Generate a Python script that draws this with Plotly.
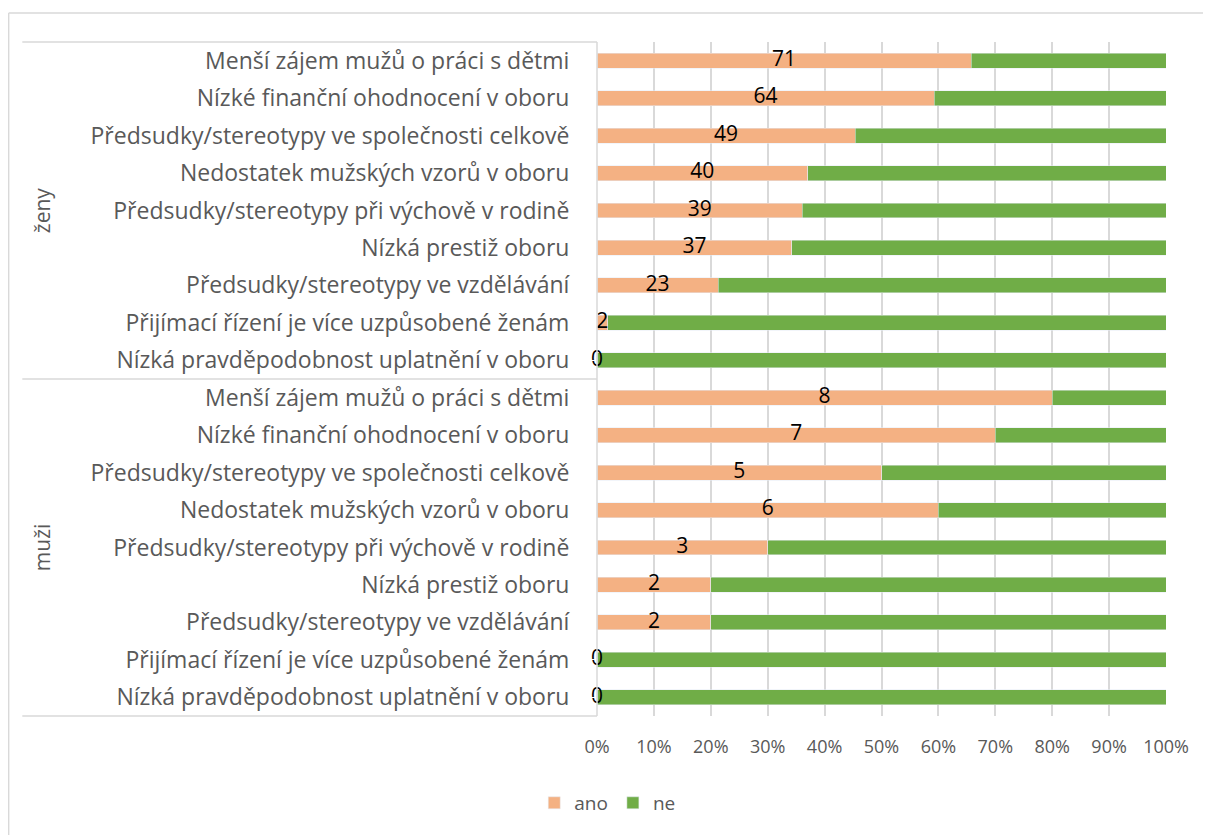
import plotly.graph_objects as go

categories = [
    "Menší zájem mužů o práci s dětmi",
    "Nízké finanční ohodnocení v oboru",
    "Předsudky/stereotypy ve společnosti celkově",
    "Nedostatek mužských vzorů v oboru",
    "Předsudky/stereotypy při výchově v rodině",
    "Nízká prestiž oboru",
    "Předsudky/stereotypy ve vzdělávání",
    "Přijímací řízení je více uzpůsobené ženám",
    "Nízká pravděpodobnost uplatnění v oboru",
]
groups = ["ženy", "muži"]
ano_zeny = [71, 64, 49, 40, 39, 37, 23, 2, 0]
ne_zeny = [37, 44, 59, 68, 69, 71, 85, 106, 108]
ano_muzi = [8, 7, 5, 6, 3, 2, 2, 0, 0]
ne_muzi = [2, 3, 5, 4, 7, 8, 8, 10, 10]

ORANGE = "#F4B183"
GREEN = "#70AD47"
FONT = "Open Sans"
GREY_TXT = "#595959"

row_ids, row_labels, ano, ne = [], [], [], []
for g, a_list, n_list in [("z", ano_zeny, ne_zeny), ("m", ano_muzi, ne_muzi)]:
    for i, cat in enumerate(categories):
        row_ids.append(f"{g}{i}")
        row_labels.append(cat)
        ano.append(a_list[i])
        ne.append(n_list[i])

ano_pct = [a / (a + n) for a, n in zip(ano, ne)]
ne_pct = [n / (a + n) for a, n in zip(ano, ne)]

fig = go.Figure()
fig.add_trace(go.Bar(y=row_ids, x=ano_pct, name="ano", orientation="h",
                     marker_color=ORANGE, width=0.4, hoverinfo="skip"))
fig.add_trace(go.Bar(y=row_ids, x=ne_pct, name="ne", orientation="h",
                     marker_color=GREEN, width=0.4, hoverinfo="skip"))
# count labels centred on the "ano" segment
fig.add_trace(go.Scatter(y=row_ids, x=[p / 2 for p in ano_pct], mode="text",
                         text=[str(a) for a in ano], showlegend=False, cliponaxis=False,
                         textfont=dict(family=FONT, size=21, color="black"),
                         hoverinfo="skip"))

grey = "#D9D9D9"
shapes = []
# group separators on the left
for yp in [1.0, 0.5, 0.0]:
    shapes.append(dict(type="line", xref="paper", yref="paper",
                       x0=-1.01, x1=0, y0=yp, y1=yp, line=dict(color=grey, width=1.5)))
shapes.append(dict(type="line", xref="paper", yref="paper",
                   x0=0, x1=0, y0=0, y1=1, line=dict(color=grey, width=1.5)))
# chart border
shapes.append(dict(type="line", xref="paper", yref="paper",
                   x0=-1.034, x1=1.2, y0=1.043, y1=1.043, line=dict(color=grey, width=1.5)))
shapes.append(dict(type="line", xref="paper", yref="paper",
                   x0=-1.034, x1=-1.034, y0=1.043, y1=-0.3, line=dict(color=grey, width=1.5)))

annotations = [
    dict(text=g, xref="paper", yref="paper", x=-0.976, y=yp, textangle=-90,
         xanchor="center", yanchor="middle",
         showarrow=False, font=dict(family=FONT, size=21, color=GREY_TXT))
    for g, yp in zip(groups, [0.75, 0.25])
]

fig.update_layout(
    barmode="stack",
    width=1211, height=835,
    margin=dict(l=589, r=53, t=34, b=127),
    plot_bgcolor="white", paper_bgcolor="white",
    font=dict(family=FONT, size=21, color=GREY_TXT),
    shapes=shapes,
    annotations=annotations,
    legend=dict(orientation="h", traceorder="normal", x=0.018, xanchor="center",
                y=-0.129, yanchor="middle", itemwidth=30,
                font=dict(family=FONT, size=19, color=GREY_TXT)),
)
fig.update_xaxes(range=[0, 1], tickvals=[i / 10 for i in range(11)], tickformat=".0%",
                 showgrid=True, gridcolor=grey, gridwidth=1.5, zeroline=False,
                 showline=False, ticks="outside", ticklen=14, tickcolor="white",
                 tickfont=dict(family=FONT, size=18, color=GREY_TXT))
fig.update_yaxes(categoryorder="array", categoryarray=row_ids,
                 range=[len(row_ids) - 0.5, -0.5],
                 tickvals=row_ids, ticktext=row_labels, showgrid=False,
                 ticks="outside", ticklen=22, tickcolor="white",
                 tickfont=dict(family=FONT, size=23, color=GREY_TXT))

fig.write_html("out.html")
